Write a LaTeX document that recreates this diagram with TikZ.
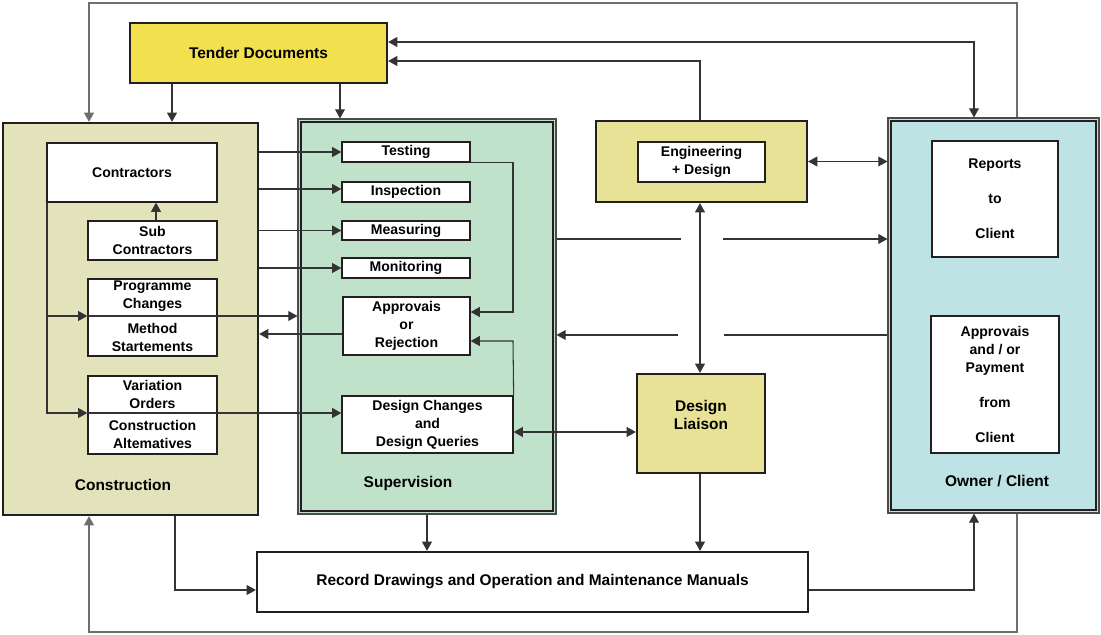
\documentclass[tikz,border=0pt]{standalone}
\usepackage{fontspec}
\setmainfont{Liberation Sans}
\usetikzlibrary{arrows.meta,calc}
\definecolor{tenderY}{HTML}{F2E04E}
\definecolor{consF}{HTML}{E3E3BB}
\definecolor{supF}{HTML}{C0E2CB}
\definecolor{engF}{HTML}{E8E296}
\definecolor{ownF}{HTML}{BDE3E5}
\definecolor{ink}{HTML}{231F20}
\definecolor{wire}{HTML}{333333}
\definecolor{wiretwo}{HTML}{6E6E6E}
\definecolor{rim}{HTML}{4A4A4A}
\begin{document}
\begin{tikzpicture}[x=0.025cm,y=-0.025cm,
  sz/.style 2 args={minimum width=#1*0.025cm, minimum height=#2*0.025cm},
  bigbox/.style={draw=ink, line width=1.6pt, inner sep=0pt},
  wbox/.style={draw=ink, line width=0.9pt, fill=white, inner sep=0pt, align=center, font=\fontsize{10}{12.8}\selectfont\bfseries},
  lbl/.style={inner sep=0pt, align=center, font=\fontsize{11}{13}\selectfont\bfseries},
  txt/.style={inner sep=0pt, align=center, font=\fontsize{10}{12.8}\selectfont\bfseries},
  conn/.style={draw=wire, line width=0.75pt},
  conntwo/.style={draw=wiretwo, line width=0.8pt},
  arr/.style={-{Triangle[length=6.5pt,width=7pt]}},
  arrs/.style={{Triangle[length=6.5pt,width=7pt]}-{Triangle[length=6.5pt,width=7pt]}}]
\useasboundingbox (0,0) rectangle (1101,635);

% ---------- main boxes ----------
\node[bigbox, fill=tenderY, sz={257}{60}, lbl] (tender) at (258.5,53) {Tender Documents};

\node[bigbox, fill=consF, sz={255}{392}] (cons) at (130.5,319) {};
\node[lbl] (consT) at (123,485) {Construction};

\node[draw=rim, line width=0.8pt, fill=supF, sz={258}{395}, inner sep=0pt] (sup) at (427,316.5) {};
\draw[draw=ink, line width=1.5pt] ($(sup.north west)+(4,4)$) rectangle ($(sup.south east)+(-4,-4)$);
\node[lbl] (supT) at (408,484) {Supervision};

\node[bigbox, fill=engF, sz={211}{81}] (eng) at (701.5,161.5) {};
\node[wbox, sz={127}{40}] (engin) at (701.5,162) {Engineering\\+ Design};

\node[bigbox, fill=engF, sz={128}{99}] (dl) at (701,423.5) {};
\node[lbl] (dlT) at (701,415) {Design\\Liaison};

\node[draw=rim, line width=0.8pt, fill=ownF, sz={211}{395}, inner sep=0pt] (owner) at (993.5,315.5) {};
\draw[draw=ink, line width=1.5pt] ($(owner.north west)+(4,4)$) rectangle ($(owner.south east)+(-4,-4)$);
\node[lbl] (ownT) at (997,481) {Owner / Client};

\node[bigbox, fill=white, sz={551}{60}, lbl] (record) at (532.5,582) {Record Drawings and Operation and Maintenance Manuals};

% ---------- construction inner ----------
\node[wbox, sz={170}{59}] (contr) at (132,172.5) {Contractors};
\node[wbox, sz={129}{39}] (sub) at (152.5,240.5) {Sub\\Contractors};
\node[wbox, sz={129}{77}] (prog) at (152.5,317.5) {};
\node[txt] (progT) at (152.5,296) {Programme\\Changes};
\node[txt] (methT) at (152.5,337) {Method\\Startements};
\node[wbox, sz={129}{78}] (var) at (152.5,415) {};
\node[txt] (varT) at (152.5,394) {Variation\\Orders};
\node[txt] (altT) at (152.5,434.5) {Construction\\Altematives};

% ---------- supervision inner ----------
\node[wbox, sz={128}{20}] (testing) at (406,152) {Testing};
\node[wbox, sz={128}{20}] (insp) at (406,192) {Inspection};
\node[wbox, sz={128}{19}] (meas) at (406,230.5) {Measuring};
\node[wbox, sz={128}{20}] (mon) at (406,268) {Monitoring};
\node[wbox, sz={127}{58}] (appr) at (406.5,326) {Approvais\\or\\Rejection};
\node[wbox, sz={171}{57}] (dchg) at (427.5,424.5) {Design Changes\\and\\Design Queries};

% ---------- owner inner ----------
\node[wbox, sz={126}{116}] (reports) at (995,199) {Reports\\[12pt]to\\[12pt]Client};
\node[wbox, sz={128}{137}] (oappr) at (995,384.5) {Approvais\\and / or\\Payment\\[12pt]from\\[12pt]Client};

% ---------- coordinates ----------
\coordinate (tl) at (89,3);
\coordinate (tr) at (1017,3);
\coordinate (bl) at (89,632);
\coordinate (br) at (1017,632);
\coordinate (cr) at (175,590);
\coordinate (ro) at (974,590);
\coordinate (to) at (974,42);
\coordinate (et) at (700,61);
\coordinate (gAa) at (681,239);
\coordinate (gAb) at (723,239);
\coordinate (gBa) at (678,335);
\coordinate (gBb) at (724,335);
\coordinate (lv) at (47,413);
\coordinate (lm) at (47,316);
\coordinate (ta) at (513,312);
\coordinate (da) at (513,341);

% ---------- outer loops ----------
\draw[conntwo,arr] (tr |- owner.north) -- (tr) -- (tl) -- (tl |- cons.north);
\draw[conntwo,arr] (br |- owner.south) -- (br) -- (bl) -- (bl |- cons.south);

% ---------- top connectors ----------
\draw[conn,arr] (172,0 |- tender.south) -- (172,0 |- cons.north);
\draw[conn,arr] (340,0 |- tender.south) -- (340,0 |- sup.north);
\draw[conn,arrs] (to -| tender.east) -- (to) -- (to |- owner.north);
\draw[conn,arr] (et |- eng.north) -- (et) -- (et -| tender.east);

% ---------- middle right ----------
\draw[conn,arrs] (eng.east) -- (eng.east -| owner.west);
\draw[conn,arrs] (700,0 |- eng.south) -- (700,0 |- dl.north);
\draw[conn] (gAa -| sup.east) -- (gAa);
\draw[conn,arr] (gAb) -- (gAb -| owner.west);
\draw[conn,arr] (gBa) -- (gBa -| sup.east);
\draw[conn] (gBb -| owner.west) -- (gBb);
\draw[conn,arrs] (dchg.east |- 0,432) -- (dl.west |- 0,432);

% ---------- bottom ----------
\draw[conn,arr] (700,0 |- dl.south) -- (700,0 |- record.north);
\draw[conn,arr] (427,0 |- sup.south) -- (427,0 |- record.north);
\draw[conn,arr] (cr |- cons.south) -- (cr) -- (cr -| record.west);
\draw[conn,arr] (ro -| record.east) -- (ro) -- (ro |- owner.south);

% ---------- construction internal ----------
\draw[conn,arr] (156,0 |- sub.north) -- (156,0 |- contr.south);
\draw[conn,arr] (lv |- contr.south) -- (lv) -- (lv -| var.west);
\draw[conn,arr] (lm) -- (lm -| prog.west);
\draw[conn,arr] (lm -| prog.west) -- (lm -| sup.west);
\draw[conn,arr] (lv -| var.west) -- (lv -| dchg.west);
\draw[conn,arr] (appr.west |- 0,334) -- (cons.east |- 0,334);

% ---------- construction to supervision tasks ----------
\draw[conn,arr] (cons.east |- testing.west) -- (testing.west);
\draw[conn,arr] (cons.east |- 0,189) -- (insp.west |- 0,189);
\draw[conn,arr] (cons.east |- meas.west) -- (meas.west);
\draw[conn,arr] (cons.east |- mon.west) -- (mon.west);

% ---------- supervision feedback ----------
\draw[conn,arr] (testing.south east) -| (ta) -- (ta -| appr.east);
\draw[conn,arr] (dchg.north east) -- (da) -- (da -| appr.east);
\end{tikzpicture}
\end{document}
